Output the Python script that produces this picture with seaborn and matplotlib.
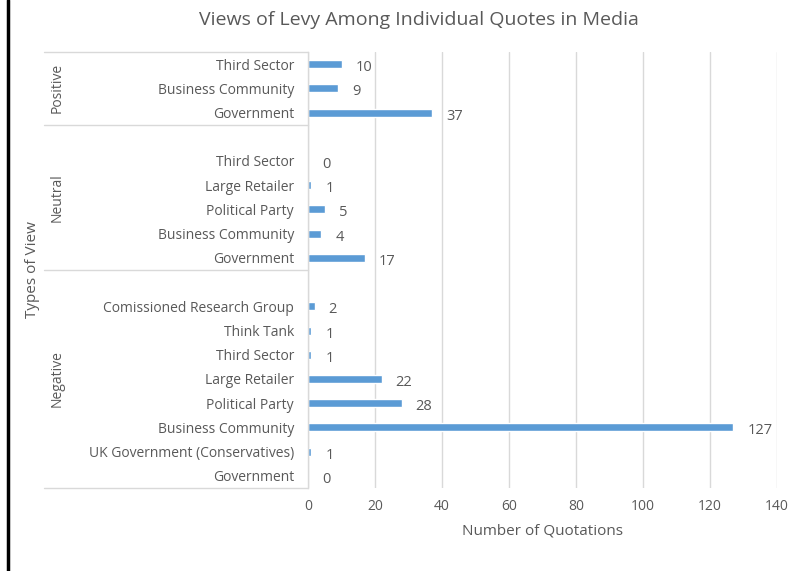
import matplotlib
matplotlib.use("Agg")
import matplotlib.pyplot as plt
from matplotlib.lines import Line2D
import matplotlib.transforms as mtransforms
import pandas as pd
import seaborn as sns

# data, top to bottom as in the chart
groups = ["Positive", "Neutral", "Negative"]
positive_labels = ["Third Sector", "Business Community", "Government"]
positive_values = [10, 9, 37]
neutral_labels = ["Third Sector", "Large Retailer", "Political Party",
                  "Business Community", "Government"]
neutral_values = [0, 1, 5, 4, 17]
negative_labels = ["Comissioned Research Group", "Think Tank", "Third Sector",
                   "Large Retailer", "Political Party", "Business Community",
                   "UK Government (Conservatives)", "Government"]
negative_values = [2, 1, 1, 22, 28, 127, 1, 0]

TEXT = "#595959"
GRID = "#D9D9D9"
BAR = "#5B9BD5"

sns.set_style("white")
plt.rcParams['font.family'] = ['Open Sans', 'DejaVu Sans']
plt.rcParams['text.color'] = TEXT

rows = []
order = []
tick_names = []
spans = {}
for gi, (g, labels, values) in enumerate(zip(
        groups,
        [positive_labels, neutral_labels, negative_labels],
        [positive_values, neutral_values, negative_values])):
    if gi > 0:
        order.append(f"blank{gi}")
        tick_names.append("")
    start = len(order)
    for lab, val in zip(labels, values):
        key = f"{g}|{lab}"
        rows.append({"key": key, "Group": g, "Category": lab, "Count": val})
        order.append(key)
        tick_names.append(lab)
    spans[g] = (start, len(order) - 1)
df = pd.DataFrame(rows)

fig = plt.figure(figsize=(7.97, 5.71), dpi=100)
ax = fig.add_axes([308 / 797, 1 - 488 / 571, (777 - 308) / 797, (488 - 52) / 571])

sns.barplot(data=df, y="key", x="Count", order=order, orient="h",
            color=BAR, width=0.33, saturation=1, ax=ax, errorbar=None)

for c in ax.containers:
    labels = ax.bar_label(c, padding=10, fontsize=10.5, color=TEXT)
    for t in labels:
        t.xyann = (t.xyann[0], -2.5)

ax.set_xlim(0, 140)
ax.set_xticks(range(0, 141, 20))
ax.set_ylim(len(order) - 0.5, -0.5)
ax.set_yticks(range(len(order)))
ax.set_yticklabels(tick_names)
ax.tick_params(axis="y", length=0, pad=10, labelsize=10, labelcolor=TEXT)
ax.tick_params(axis="x", length=0, pad=8, labelsize=10, labelcolor=TEXT)
ax.grid(axis="x", color=GRID, linewidth=1)
ax.set_axisbelow(True)
for s in ["top", "right", "bottom"]:
    ax.spines[s].set_visible(False)
ax.spines["left"].set_color(GRID)
ax.spines["left"].set_linewidth(1)

ax.set_xlabel("Number of Quotations", fontsize=11, color=TEXT, labelpad=7)
ax.set_ylabel("")

# group separators and group labels
trans = mtransforms.blended_transform_factory(ax.transAxes, ax.transData)
x_left = (44 - 308) / (777 - 308)
bounds = [-0.5] + [spans[g][1] + 0.5 for g in groups]
for b in bounds:
    ax.plot([x_left, 0], [b, b], transform=trans, color=GRID, lw=1,
            clip_on=False)
x_grp = (57 - 308) / (777 - 308)
for g in groups:
    lo, hi = spans[g]
    top = lo - 0.5 if g == "Positive" else lo - 1.5
    mid = (top + hi + 0.5) / 2
    ax.text(x_grp, mid, g, transform=trans, rotation=90, ha="center",
            va="center", fontsize=10, color=TEXT)

fig.text(33 / 797, 1 - 270 / 571, "Types of View", rotation=90,
         ha="center", va="center", fontsize=11, color=TEXT)
fig.text(419 / 797, 1 - 20 / 571,
         "Views of Levy Among Individual Quotes in Media",
         ha="center", va="center", fontsize=14, color=TEXT)

fig.add_artist(Line2D([8 / 797, 8 / 797], [0, 1], color="black", lw=2.5,
                      transform=fig.transFigure))

plt.savefig("out.png", dpi=100)
